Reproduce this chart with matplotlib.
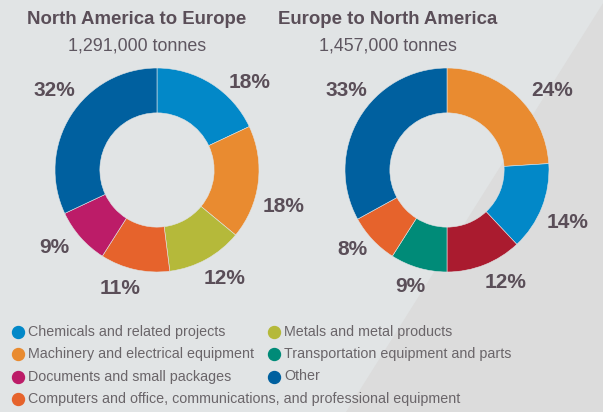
import matplotlib.pyplot as plt
from matplotlib.patches import Polygon

# data
cats = ["Chemicals and related projects", "Machinery and electrical equipment",
        "Documents and small packages",
        "Computers and office, communications, and professional equipment",
        "Metals and metal products", "Transportation equipment and parts", "Other"]
cat_colors = ["#0288C8", "#E98B30", "#BC1C68", "#E6632C", "#B5B93A", "#008B78", "#00609F"]

na_eu_vals = [18, 18, 12, 11, 9, 32]
na_eu_colors = ["#0288C8", "#E98B30", "#B5B93A", "#E6632C", "#BC1C68", "#00609F"]

eu_na_vals = [24, 14, 12, 9, 8, 33]
eu_na_colors = ["#E98B30", "#0288C8", "#AA1B2F", "#008B78", "#E6632C", "#00609F"]

titles = ["North America to Europe", "Europe to North America"]
subtitles = ["1,291,000 tonnes", "1,457,000 tonnes"]

# where the percent labels sit (pixels from top left)
na_eu_lbl = [(250, 83), (284, 206), (225, 278), (120, 288), (54, 248), (54, 90)]
eu_na_lbl = [(552, 90), (568, 222), (506, 282), (410, 287), (352, 250), (346, 90)]

W, H = 603, 412
bg = "#E1E4E5"
txt = "#5A4E58"
plt.rcParams['font.family'] = ['Liberation Sans', 'DejaVu Sans']

fig = plt.figure(figsize=(W / 100, H / 100), dpi=100)
fig.patch.set_facecolor(bg)
# darker diagonal band on the right
fig.patches.append(Polygon([(605 / W, 1), (1, 1), (1, 0), (346 / W, 0)], closed=True,
                           transform=fig.transFigure, facecolor="#DCDCDC", edgecolor="none", zorder=-1))


def donut(cx, cy, vals, colors, lbl_pos):
    r = 102
    half = 145
    ax = fig.add_axes([(cx - half) / W, (H - cy - half) / H, 2 * half / W, 2 * half / H])
    ax.set_facecolor("none")
    ax.pie(vals, colors=colors, startangle=90, counterclock=False, radius=1,
           wedgeprops=dict(width=0.44, edgecolor=bg, linewidth=0.4))
    ax.set_xlim(-half / r, half / r)
    ax.set_ylim(-half / r, half / r)
    ax.set_aspect("equal")
    ax.axis("off")
    for v, (lx, ly) in zip(vals, lbl_pos):
        fig.text(lx / W, 1 - ly / H, f"{v}%", fontsize=15, fontweight="bold", color=txt,
                 ha="center", va="center")


donut(157, 170, na_eu_vals, na_eu_colors, na_eu_lbl)
donut(447, 170, eu_na_vals, eu_na_colors, eu_na_lbl)

for tx, t, s in zip([137, 388], titles, subtitles):
    fig.text(tx / W, 1 - 19 / H, t, fontsize=13.4, fontweight="bold", color=txt, ha="center", va="center")
    fig.text(tx / W, 1 - 46 / H, s, fontsize=12.9, color="#5E5660", ha="center", va="center")

# legend
rows = [332, 354, 376.5, 399]
cols = [18, 274]
for i, (c, col) in enumerate(zip(cats, cat_colors)):
    if i < 4:
        x, y = cols[0], rows[i]
    else:
        x, y = cols[1], rows[i - 4]
    fig.lines.append(plt.Line2D([x / W], [1 - y / H], marker="o", markersize=8.6, color=col,
                                linestyle="none", transform=fig.transFigure))
    fig.text((x + 10) / W, 1 - y / H, c, fontsize=10.3, color="#6A6569", ha="left", va="center")

fig.savefig("out.png", dpi=100, facecolor=fig.get_facecolor())
